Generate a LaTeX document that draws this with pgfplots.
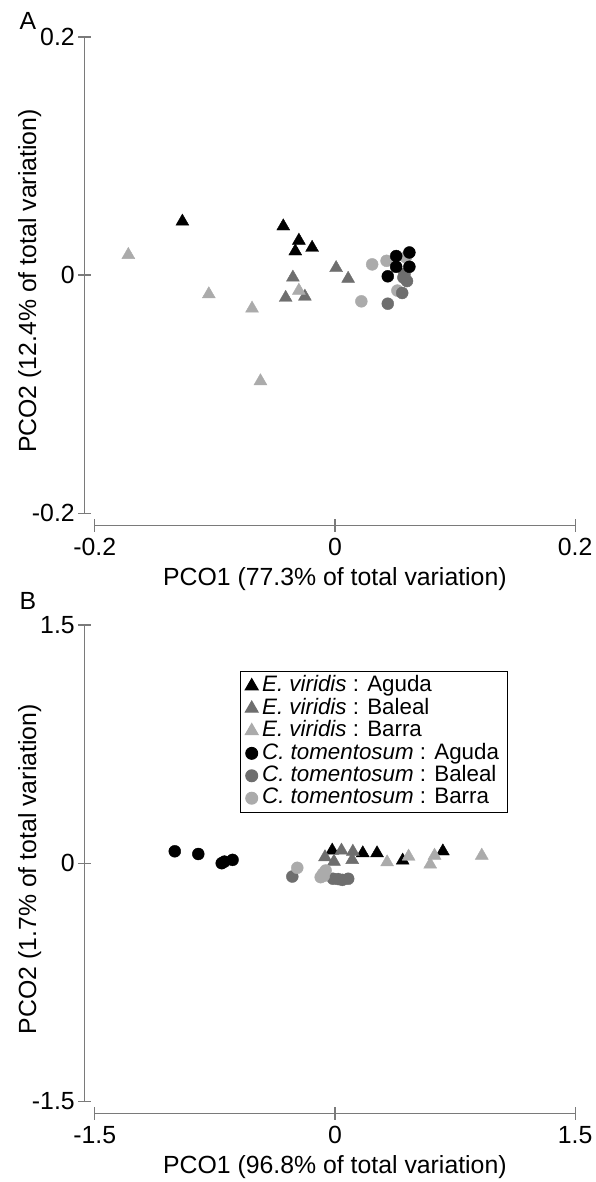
\documentclass[border=0pt]{standalone}
\usepackage{fontspec}
\setmainfont{Liberation Sans}
\usepackage{pgfplots}
\pgfplotsset{compat=1.18}
\definecolor{cdark}{HTML}{6E6E6E}
\definecolor{clight}{HTML}{ABABAB}
\definecolor{axgrey}{HTML}{7A7A7A}

\pgfplotstableread{
x y
-0.127 0.045
-0.043 0.041
-0.030 0.029
-0.033 0.020
-0.019 0.023
}\AEA
\pgfplotstableread{
x y
0.001 0.006
0.011 -0.003
-0.035 -0.002
-0.041 -0.019
-0.025 -0.018
}\AEB
\pgfplotstableread{
x y
-0.172 0.017
-0.030 -0.013
-0.105 -0.016
-0.069 -0.028
-0.062 -0.089
}\AEC
\pgfplotstableread{
x y
0.051 0.016
0.062 0.019
0.051 0.007
0.062 0.007
0.044 -0.001
}\ACA
\pgfplotstableread{
x y
0.058 0.001
0.060 -0.005
0.056 -0.015
0.044 -0.024
0.057 -0.002
}\ACB
\pgfplotstableread{
x y
0.031 0.009
0.043 0.012
0.059 0.015
0.052 -0.013
0.022 -0.022
}\ACC

\pgfplotstableread{
x y
-0.017 0.080
0.174 0.063
0.263 0.063
0.423 0.017
0.674 0.075
}\BEA
\pgfplotstableread{
x y
0.041 0.080
-0.062 0.038
-0.006 0.010
0.112 0.073
0.108 0.021
}\BEB
\pgfplotstableread{
x y
0.326 0.006
0.460 0.042
0.595 -0.008
0.622 0.048
0.917 0.048
}\BEC
\pgfplotstableread{
x y
-1.000 0.075
-0.853 0.058
-0.707 0.000
-0.639 0.021
-0.690 0.010
}\BCA
\pgfplotstableread{
x y
-0.266 -0.084
-0.012 -0.098
0.046 -0.105
0.083 -0.098
0.020 -0.100
}\BCB
\pgfplotstableread{
x y
-0.235 -0.029
-0.089 -0.088
-0.058 -0.046
-0.075 -0.067
-0.070 -0.080
}\BCC

\pgfplotsset{
  pco/.style={
    scale only axis, width=492bp, height=490bp,
    axis x line*=bottom, axis y line*=left,
    axis line style={draw=none},
    tick align=center, major tick length=13bp,
    tick style={axgrey, line width=1.3bp},
    ticklabel style={font=\fontsize{25}{30}\selectfont},
    xticklabel style={yshift=-3bp},
    every axis y label/.style={at={(axis description cs:-0.112,0.5)}, rotate=90, anchor=center, font=\fontsize{25}{30}\selectfont},
    every axis x label/.style={at={(axis description cs:0.51,-0.11)}, anchor=center, font=\fontsize{25}{30}\selectfont},
    clip=false,
  },
  tri/.style={only marks, mark=triangle*, mark size=7.5bp, mark options={draw=#1, fill=#1}},
  circ/.style={only marks, mark=*, mark size=6bp, mark options={draw=#1, fill=#1}},
}

\begin{document}
\begin{tikzpicture}[x=1bp,y=1bp]
\path (0,0) rectangle (595,1182);
\node[font=\fontsize{25}{30}\selectfont] at (28,1161) {A};
\node[font=\fontsize{25}{30}\selectfont] at (28,579) {B};

\begin{axis}[pco, at={(85bp,655bp)}, anchor=south west,
  xmin=-0.2083, xmax=0.2, ymin=-0.2100, ymax=0.2,
  xtick={-0.2,0,0.2}, xticklabels={-0.2,0,0.2},
  ytick={-0.2,0,0.2}, yticklabels={-0.2,0,0.2},
  xlabel={PCO1 (77.3\% of total variation)},
  ylabel={PCO2 (12.4\% of total variation)}]
\draw[axgrey, line width=1.5bp] (axis cs:-0.2,-0.2100) -- (axis cs:0.2,-0.2100);
\draw[axgrey, line width=1.5bp] (axis cs:-0.2083,-0.2) -- (axis cs:-0.2083,0.2);
\addplot[tri=black] table {\AEA};
\addplot[tri=cdark] table {\AEB};
\addplot[tri=clight] table {\AEC};
\addplot[circ=clight] table {\ACC};
\addplot[circ=cdark] table {\ACB};
\addplot[circ=black] table {\ACA};
\end{axis}

\begin{axis}[pco, at={(85bp,65bp)}, anchor=south west,
  xmin=-1.5622, xmax=1.5, ymin=-1.5753, ymax=1.5,
  xtick={-1.5,0,1.5}, xticklabels={-1.5,0,1.5},
  ytick={-1.5,0,1.5}, yticklabels={-1.5,0,1.5},
  xlabel={PCO1 (96.8\% of total variation)},
  ylabel={PCO2 (1.7\% of total variation)},
  legend cell align=left,
  legend image code/.code={\draw[#1] plot coordinates {(0.25cm,0cm)};},
  legend style={at={(rel axis cs:0.864,0.905)}, anchor=north east,
    draw=black, line width=1bp, font=\fontsize{22.5}{23}\selectfont,
    inner xsep=5bp, inner ysep=3bp, row sep=0bp, fill=white,
    nodes={text height=16.5bp, text depth=5bp, inner ysep=0.5bp, inner xsep=4bp}}]
\draw[axgrey, line width=1.5bp] (axis cs:-1.5,-1.5753) -- (axis cs:1.5,-1.5753);
\draw[axgrey, line width=1.5bp] (axis cs:-1.5622,-1.5) -- (axis cs:-1.5622,1.5);
\addplot[tri=black] table {\BEA};
\addlegendentry{\textit{E. viridis} : Aguda}
\addplot[tri=cdark] table {\BEB};
\addlegendentry{\textit{E. viridis} : Baleal}
\addplot[tri=clight] table {\BEC};
\addlegendentry{\textit{E. viridis} : Barra}
\addplot[circ=black] table {\BCA};
\addlegendentry{\textit{C. tomentosum} : Aguda}
\addplot[circ=cdark] table {\BCB};
\addlegendentry{\textit{C. tomentosum} : Baleal}
\addplot[circ=clight] table {\BCC};
\addlegendentry{\textit{C. tomentosum} : Barra}
\end{axis}
\end{tikzpicture}
\end{document}
